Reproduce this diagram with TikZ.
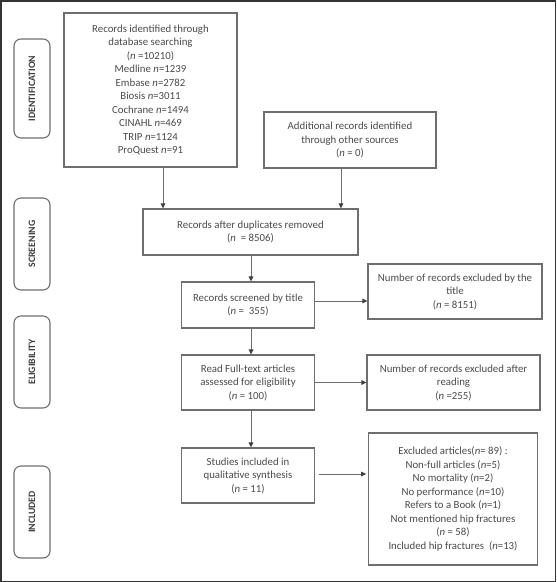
\documentclass[tikz,border=0pt]{standalone}
\usepackage{fontspec}
\setmainfont{Carlito}
\usetikzlibrary{arrows.meta}
\definecolor{txt}{HTML}{4A4A4A}
\definecolor{edge}{HTML}{6E6E6E}
\tikzset{
  box/.style={draw=edge, line width=1.1pt, inner sep=0pt, align=center, text=txt,
    font=\fontsize{10.8}{13.5}\selectfont},
  side/.style={draw=edge, line width=1.1pt, rounded corners=7pt, inner sep=0pt,
    minimum width=36pt, text=txt!80!black, font=\fontsize{9.8}{11}\selectfont\bfseries},
  arr/.style={draw=edge, line width=1pt, -{Triangle[length=5pt,width=4.5pt,color=black!75]}},
}
\begin{document}
\begin{tikzpicture}[x=1pt,y=-1pt]
\useasboundingbox (0,0) rectangle (557,582);
\draw[line width=1.5pt, color=black!80] (0.75,0.75) rectangle (555.5,581.25);
% side labels
\node[side, minimum height=99pt] (sid) at (32,88.5) {\rotatebox{90}{IDENTIFICATION}};
\node[side, minimum height=92pt] (sscr) at (32,244) {\rotatebox{90}{SCREENING}};
\node[side, minimum height=92pt] (sel) at (32,362) {\rotatebox{90}{ELIGIBILITY}};
\node[side, minimum height=92pt] (sin) at (32,512) {\rotatebox{90}{INCLUDED}};
% boxes
\node[box, minimum width=173pt, minimum height=154pt] (db) at (150.5,90)
 {Records identified through\\ database searching\\ (\textit{n} =10210)\\ Medline \textit{n}=1239\\ Embase \textit{n}=2782\\ Biosis \textit{n}=3011\\ Cochrane \textit{n}=1494\\ CINAHL \textit{n}=469\\ TRIP \textit{n}=1124\\ ProQuest \textit{n}=91};
\node[box, minimum width=172pt, minimum height=56pt] (oth) at (350,140)
 {Additional records identified\\ through other sources\\ (\textit{n} = 0)};
\node[box, minimum width=215pt, minimum height=46pt] (dup) at (250.5,232)
 {Records after duplicates removed\\ (\textit{n} \ = 8506)};
\node[box, minimum width=133pt, minimum height=46pt] (scr) at (248,305)
 {Records screened by title\\ (\textit{n} = \ 355)};
\node[box, minimum width=174pt, minimum height=55pt] (ext) at (455,291.5)
 {Number of records excluded by the\\ title\\ (\textit{n} = 8151)};
\node[box, minimum width=133pt, minimum height=55pt] (ful) at (248,382.5)
 {Read Full-text articles\\ assessed for eligibility\\ (\textit{n} = 100)};
\node[box, minimum width=173pt, minimum height=55pt] (exr) at (453.5,382.5)
 {Number of records excluded after\\ reading\\ (\textit{n} =255)};
\node[box, minimum width=133pt, minimum height=55pt] (stu) at (248,475.5)
 {Studies included in\\ qualitative synthesis\\ (\textit{n} = 11)};
\node[box, minimum width=169.5pt, minimum height=132pt] (exa) at (453,499)
 {Excluded articles(\textit{n}= 89) :\\ Non-full articles (\textit{n}=5)\\ No mortality (\textit{n}=2)\\ No performance (\textit{n}=10)\\ Refers to a Book (\textit{n}=1)\\ Not mentioned hip fractures\\ (\textit{n} = 58)\\ Included hip fractures \ (\textit{n}=13)};
% connectors
\coordinate (xa) at (163,0);
\coordinate (xb) at (341,0);
\coordinate (xc) at (251,0);
\coordinate (ya) at (0,301);
\coordinate (yb) at (0,474);
\draw[arr] (db.south -| xa) -- (dup.north -| xa);
\draw[arr] (oth.south -| xb) -- (dup.north -| xb);
\draw[arr] (dup.south -| xc) -- (scr.north -| xc);
\draw[arr] (scr.east |- ya) -- (ext.west |- ya);
\draw[arr] (scr.south -| xc) -- (ful.north -| xc);
\draw[arr] (ful.east) -- (exr.west);
\draw[arr] (ful.south -| xc) -- (stu.north -| xc);
\draw[arr, shorten <=3.5pt, shorten >=1.5pt] (stu.east |- yb) -- (exa.west |- yb);
\end{tikzpicture}
\end{document}
